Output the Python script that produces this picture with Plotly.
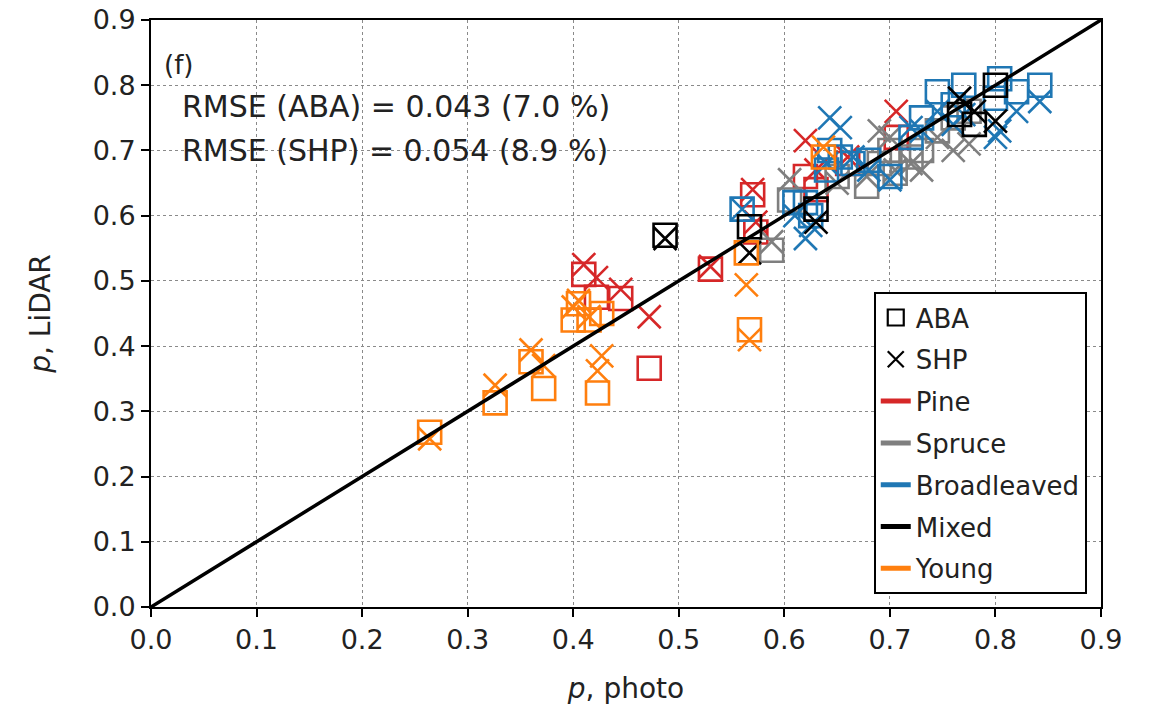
import plotly.graph_objects as go

# ---- data ----
pine_photo = [0.410, 0.422, 0.445, 0.472, 0.530, 0.570, 0.573, 0.620, 0.630, 0.660, 0.706]
pine_aba   = [0.510, 0.475, 0.473, 0.366, 0.518, 0.632, 0.575, 0.660, 0.640, 0.680, 0.720]
pine_shp   = [0.525, 0.505, 0.487, 0.445, 0.522, 0.640, 0.590, 0.715, 0.670, 0.690, 0.760]

spruce_photo = [0.588, 0.605, 0.650, 0.678, 0.690, 0.700, 0.705, 0.720, 0.730, 0.745, 0.760, 0.775]
spruce_aba   = [0.547, 0.624, 0.660, 0.645, 0.680, 0.700, 0.665, 0.690, 0.700, 0.730, 0.750, 0.760]
spruce_shp   = [0.560, 0.655, 0.650, 0.660, 0.730, 0.720, 0.670, 0.680, 0.670, 0.720, 0.700, 0.710]

broad_photo = [0.560, 0.610, 0.620, 0.625, 0.640, 0.643, 0.653, 0.665, 0.680, 0.700, 0.720,
               0.730, 0.745, 0.760, 0.770, 0.800, 0.804, 0.820, 0.842]
broad_aba   = [0.610, 0.620, 0.620, 0.600, 0.670, 0.700, 0.690, 0.680, 0.685, 0.660, 0.720,
               0.750, 0.790, 0.770, 0.800, 0.780, 0.810, 0.790, 0.800]
broad_shp   = [0.610, 0.600, 0.565, 0.585, 0.680, 0.750, 0.735, 0.690, 0.670, 0.655, 0.735,
               0.730, 0.760, 0.740, 0.755, 0.720, 0.730, 0.760, 0.775]

mixed_photo = [0.487, 0.567, 0.630, 0.766, 0.780, 0.800]
mixed_aba   = [0.570, 0.583, 0.610, 0.755, 0.740, 0.800]
mixed_shp   = [0.565, 0.543, 0.590, 0.780, 0.760, 0.745]

young_photo = [0.264, 0.326, 0.360, 0.372, 0.400, 0.405, 0.415, 0.423, 0.427, 0.564, 0.567, 0.637]
young_aba   = [0.268, 0.313, 0.376, 0.335, 0.440, 0.465, 0.440, 0.328, 0.450, 0.543, 0.425, 0.690]
young_shp   = [0.258, 0.340, 0.394, 0.370, 0.460, 0.470, 0.445, 0.362, 0.385, 0.494, 0.410, 0.705]

one_to_one = [0.0, 0.9]
tick_vals = [0.0, 0.1, 0.2, 0.3, 0.4, 0.5, 0.6, 0.7, 0.8, 0.9]
tick_text = ["0.0", "0.1", "0.2", "0.3", "0.4", "0.5", "0.6", "0.7", "0.8", "0.9"]

groups = [
    ("Pine", "#d62728", pine_photo, pine_aba, pine_shp),
    ("Spruce", "#7f7f7f", spruce_photo, spruce_aba, spruce_shp),
    ("Broadleaved", "#1f77b4", broad_photo, broad_aba, broad_shp),
    ("Mixed", "#000000", mixed_photo, mixed_aba, mixed_shp),
    ("Young", "#ff7f0e", young_photo, young_aba, young_shp),
]

FONT = "DejaVu Sans"
TXT = "#222222"
fig = go.Figure()

for name, col, px, aba, shp in groups:
    fig.add_trace(go.Scatter(x=px, y=aba, mode="markers", showlegend=False,
                             marker=dict(symbol="square-open", size=23, color=col,
                                         line=dict(width=2.6, color=col))))
    fig.add_trace(go.Scatter(x=px, y=shp, mode="markers", showlegend=False,
                             marker=dict(symbol="x-thin-open", size=23, color=col,
                                         line=dict(width=2.6, color=col))))

fig.add_trace(go.Scatter(x=one_to_one, y=one_to_one, mode="lines", showlegend=False,
                         line=dict(color="black", width=3.5)))

# legend entries
fig.add_trace(go.Scatter(x=[None], y=[None], mode="markers", name="ABA", legendgroup="a",
                         marker=dict(symbol="square-open", size=20, color="black",
                                     line=dict(width=2.2, color="black"))))
fig.add_trace(go.Scatter(x=[None], y=[None], mode="markers", name="SHP", legendgroup="b",
                         marker=dict(symbol="x-thin-open", size=20, color="black",
                                     line=dict(width=2.2, color="black"))))
for i, (name, col, *_rest) in enumerate(groups):
    fig.add_trace(go.Scatter(x=[None], y=[None], mode="lines", name=name, legendgroup="g%d" % i,
                             line=dict(color=col, width=5)))

axis_common = dict(
    range=[0, 0.9], tickvals=tick_vals, ticktext=tick_text, automargin=False,
    showgrid=True, gridcolor="#8a8a8a", griddash="dot", gridwidth=1.3,
    showline=True, linecolor="black", linewidth=2, mirror=True,
    ticks="outside", ticklen=8, tickwidth=2, tickcolor="black",
    zeroline=False, tickfont=dict(family=FONT, size=27, color=TXT),
)

fig.update_layout(
    width=1153, height=718,
    margin=dict(l=151, r=52, t=20, b=111, autoexpand=False),
    plot_bgcolor="white", paper_bgcolor="white",
    font=dict(family=FONT, size=27, color=TXT),
    xaxis=dict(axis_common, title=dict(text="<i>p</i>, photo", font=dict(size=28), standoff=24)),
    yaxis=dict(axis_common, title=dict(text="<i>p</i>, LiDAR", font=dict(size=28), standoff=34)),
    legend=dict(x=0.985, y=0.022, xanchor="right", yanchor="bottom",
                bgcolor="white", bordercolor="black", borderwidth=2,
                font=dict(family=FONT, size=26, color=TXT),
                tracegroupgap=5, itemwidth=30),
    annotations=[
        dict(x=0.012, y=0.923, xref="paper", yref="paper", text="(f)", showarrow=False,
             xanchor="left", yanchor="middle", font=dict(size=26, family=FONT, color=TXT)),
        dict(x=0.030, y=0.853, xref="paper", yref="paper", text="RMSE (ABA) = 0.043 (7.0 %)",
             showarrow=False, xanchor="left", yanchor="middle",
             font=dict(size=30, family=FONT, color=TXT)),
        dict(x=0.030, y=0.778, xref="paper", yref="paper", text="RMSE (SHP) = 0.054 (8.9 %)",
             showarrow=False, xanchor="left", yanchor="middle",
             font=dict(size=30, family=FONT, color=TXT)),
    ],
)

fig.write_html("out.html")
